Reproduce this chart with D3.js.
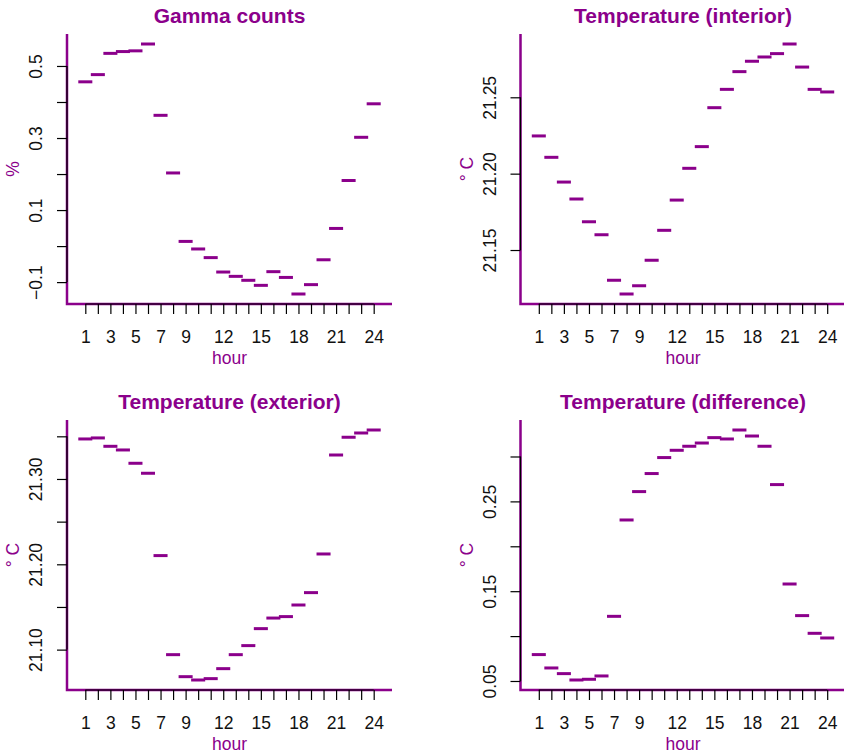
<!DOCTYPE html>
<html>
<head>
<meta charset="utf-8">
<script src="https://cdn.jsdelivr.net/npm/d3@7"></script>
<style>
  body { margin: 0; background: #fff; }
  svg text { font-family: "Liberation Sans", Arial, Helvetica, sans-serif; }
</style>
</head>
<body>
<svg id="chart" width="844" height="755"></svg>
<script>
// ---------------- data ----------------
const hours = [1,2,3,4,5,6,7,8,9,10,11,12,13,14,15,16,17,18,19,20,21,22,23,24];
const xTickLabels = [1,3,5,7,9,12,15,18,21,24];

const gammaCounts = [0.456,0.476,0.535,0.540,0.542,0.561,0.363,0.203,0.013,-0.008,-0.032,-0.072,
                     -0.084,-0.095,-0.109,-0.071,-0.087,-0.133,-0.107,-0.038,0.049,0.182,0.302,0.395];
const tempInterior = [21.2247,21.2107,21.1945,21.1834,21.1685,21.1600,21.1302,21.1212,21.1266,21.1433,21.1629,21.1827,
                      21.2035,21.2177,21.2432,21.2552,21.2668,21.2736,21.2764,21.2786,21.2849,21.2698,21.2552,21.2535];
const tempExterior = [21.3469,21.3481,21.3383,21.3340,21.3184,21.3067,21.2102,21.0941,21.0683,21.0644,21.0660,21.0777,
                      21.0941,21.1047,21.1246,21.1370,21.1387,21.1523,21.1668,21.2121,21.3281,21.3489,21.3539,21.3574];
const tempDifference = [0.0794,0.0645,0.0582,0.0511,0.0519,0.0556,0.1220,0.2293,0.2609,0.2810,0.2988,0.3069,
                        0.3114,0.3150,0.3210,0.3195,0.3295,0.3228,0.3114,0.2687,0.1580,0.1228,0.1031,0.0979];

const gammaYTicks = [-0.1,0,0.1,0.2,0.3,0.4,0.5];
const gammaYLabels = ["\u22120.1","","0.1","","0.3","","0.5"];
const interiorYTicks = [21.15,21.20,21.25];
const interiorYLabels = ["21.15","21.20","21.25"];
const exteriorYTicks = [21.10,21.15,21.20,21.25,21.30,21.35];
const exteriorYLabels = ["21.10","","21.20","","21.30",""];
const differenceYTicks = [0.05,0.10,0.15,0.20,0.25,0.30];
const differenceYLabels = ["0.05","","0.15","","0.25",""];

const titles = ["Gamma counts","Temperature (interior)","Temperature (exterior)","Temperature (difference)"];
const yLabels = ["%","\u00B0 C","\u00B0 C","\u00B0 C"];
const xLabel = "hour";

// ---------------- layout ----------------
const purple = "#8B008B";
const svg = d3.select("#chart");
const boxes = [
  {left: 67,    right: 392,   top: 34,  bottom: 304},
  {left: 520.5, right: 845.5, top: 34,  bottom: 304},
  {left: 67,    right: 392,   top: 420, bottom: 690},
  {left: 520.5, right: 845.5, top: 420, bottom: 690}
];
const series = [
  {values: gammaCounts,    ticks: gammaYTicks,      labels: gammaYLabels},
  {values: tempInterior,   ticks: interiorYTicks,   labels: interiorYLabels},
  {values: tempExterior,   ticks: exteriorYTicks,   labels: exteriorYLabels},
  {values: tempDifference, ticks: differenceYTicks, labels: differenceYLabels}
];

function ext([a, b]) { const r = b - a; return [a - 0.04 * r, b + 0.04 * r]; }

const fs = 17.5;
const ff = '"Liberation Sans", Arial, Helvetica, sans-serif';

series.forEach((s, k) => {
  const b = boxes[k];
  const x = d3.scaleLinear().domain(ext([0.5, 24.5])).range([b.left, b.right]);
  const y = d3.scaleLinear().domain(ext(d3.extent(s.values))).range([b.bottom, b.top]);
  const g = svg.append("g");

  // L-shaped box
  g.append("path")
    .attr("d", `M${b.left},${b.top}V${b.bottom}H${b.right}`)
    .attr("fill", "none").attr("stroke", purple).attr("stroke-width", 2.5);

  // Y axis
  const ya = g.append("g")
    .attr("transform", `translate(${b.left},0)`)
    .call(d3.axisLeft(y).tickValues(s.ticks).tickFormat((d, i) => s.labels[i]).tickSize(10).tickSizeOuter(0))
    .attr("font-size", fs).attr("font-family", ff);
  ya.select(".domain").remove();
  ya.append("line")
    .attr("x1", 0).attr("x2", 0)
    .attr("y1", y(s.ticks[0])).attr("y2", y(s.ticks[s.ticks.length - 1]))
    .attr("stroke", "#000").attr("stroke-width", 1.2);
  ya.selectAll(".tick line").attr("stroke", "#000").attr("stroke-width", 1.2);
  ya.selectAll(".tick text")
    .attr("x", null).attr("dy", null)
    .attr("fill", "#111")
    .attr("text-anchor", "middle")
    .attr("dominant-baseline", "central")
    .attr("transform", "translate(-31,0) rotate(-90)");

  // X axis
  const xa = g.append("g")
    .attr("transform", `translate(0,${b.bottom})`)
    .call(d3.axisBottom(x).tickValues(hours).tickFormat(d => xTickLabels.includes(d) ? d : "").tickSize(10).tickSizeOuter(0))
    .attr("font-size", fs).attr("font-family", ff);
  xa.select(".domain").remove();
  xa.append("line")
    .attr("y1", 0).attr("y2", 0)
    .attr("x1", x(hours[0])).attr("x2", x(hours[hours.length - 1]))
    .attr("stroke", "#000").attr("stroke-width", 1.2);
  xa.selectAll(".tick line").attr("stroke", "#000").attr("stroke-width", 1.2);
  xa.selectAll(".tick text")
    .attr("y", 33).attr("dy", null)
    .attr("fill", "#111")
    .attr("dominant-baseline", "central");

  // segments
  g.selectAll("line.seg").data(s.values).join("line")
    .attr("class", "seg")
    .attr("x1", (d, i) => x(hours[i] - 0.56))
    .attr("x2", (d, i) => x(hours[i] + 0.56))
    .attr("y1", d => y(d)).attr("y2", d => y(d))
    .attr("stroke", purple).attr("stroke-width", 3);

  // title
  g.append("text")
    .attr("x", (b.left + b.right) / 2)
    .attr("y", b.top - 19)
    .attr("text-anchor", "middle").attr("dominant-baseline", "central")
    .attr("font-size", 21).attr("font-weight", "bold").attr("fill", purple)
    .text(titles[k]);

  // x label
  g.append("text")
    .attr("x", (b.left + b.right) / 2).attr("y", b.bottom + 54)
    .attr("text-anchor", "middle").attr("dominant-baseline", "central")
    .attr("font-size", fs).attr("fill", purple)
    .text(xLabel);

  // y label
  g.append("text")
    .attr("transform", `translate(${b.left - 54},${(b.top + b.bottom) / 2}) rotate(-90)`)
    .attr("text-anchor", "middle").attr("dominant-baseline", "central")
    .attr("font-size", fs).attr("fill", purple)
    .text(yLabels[k]);
});
</script>
</body>
</html>
